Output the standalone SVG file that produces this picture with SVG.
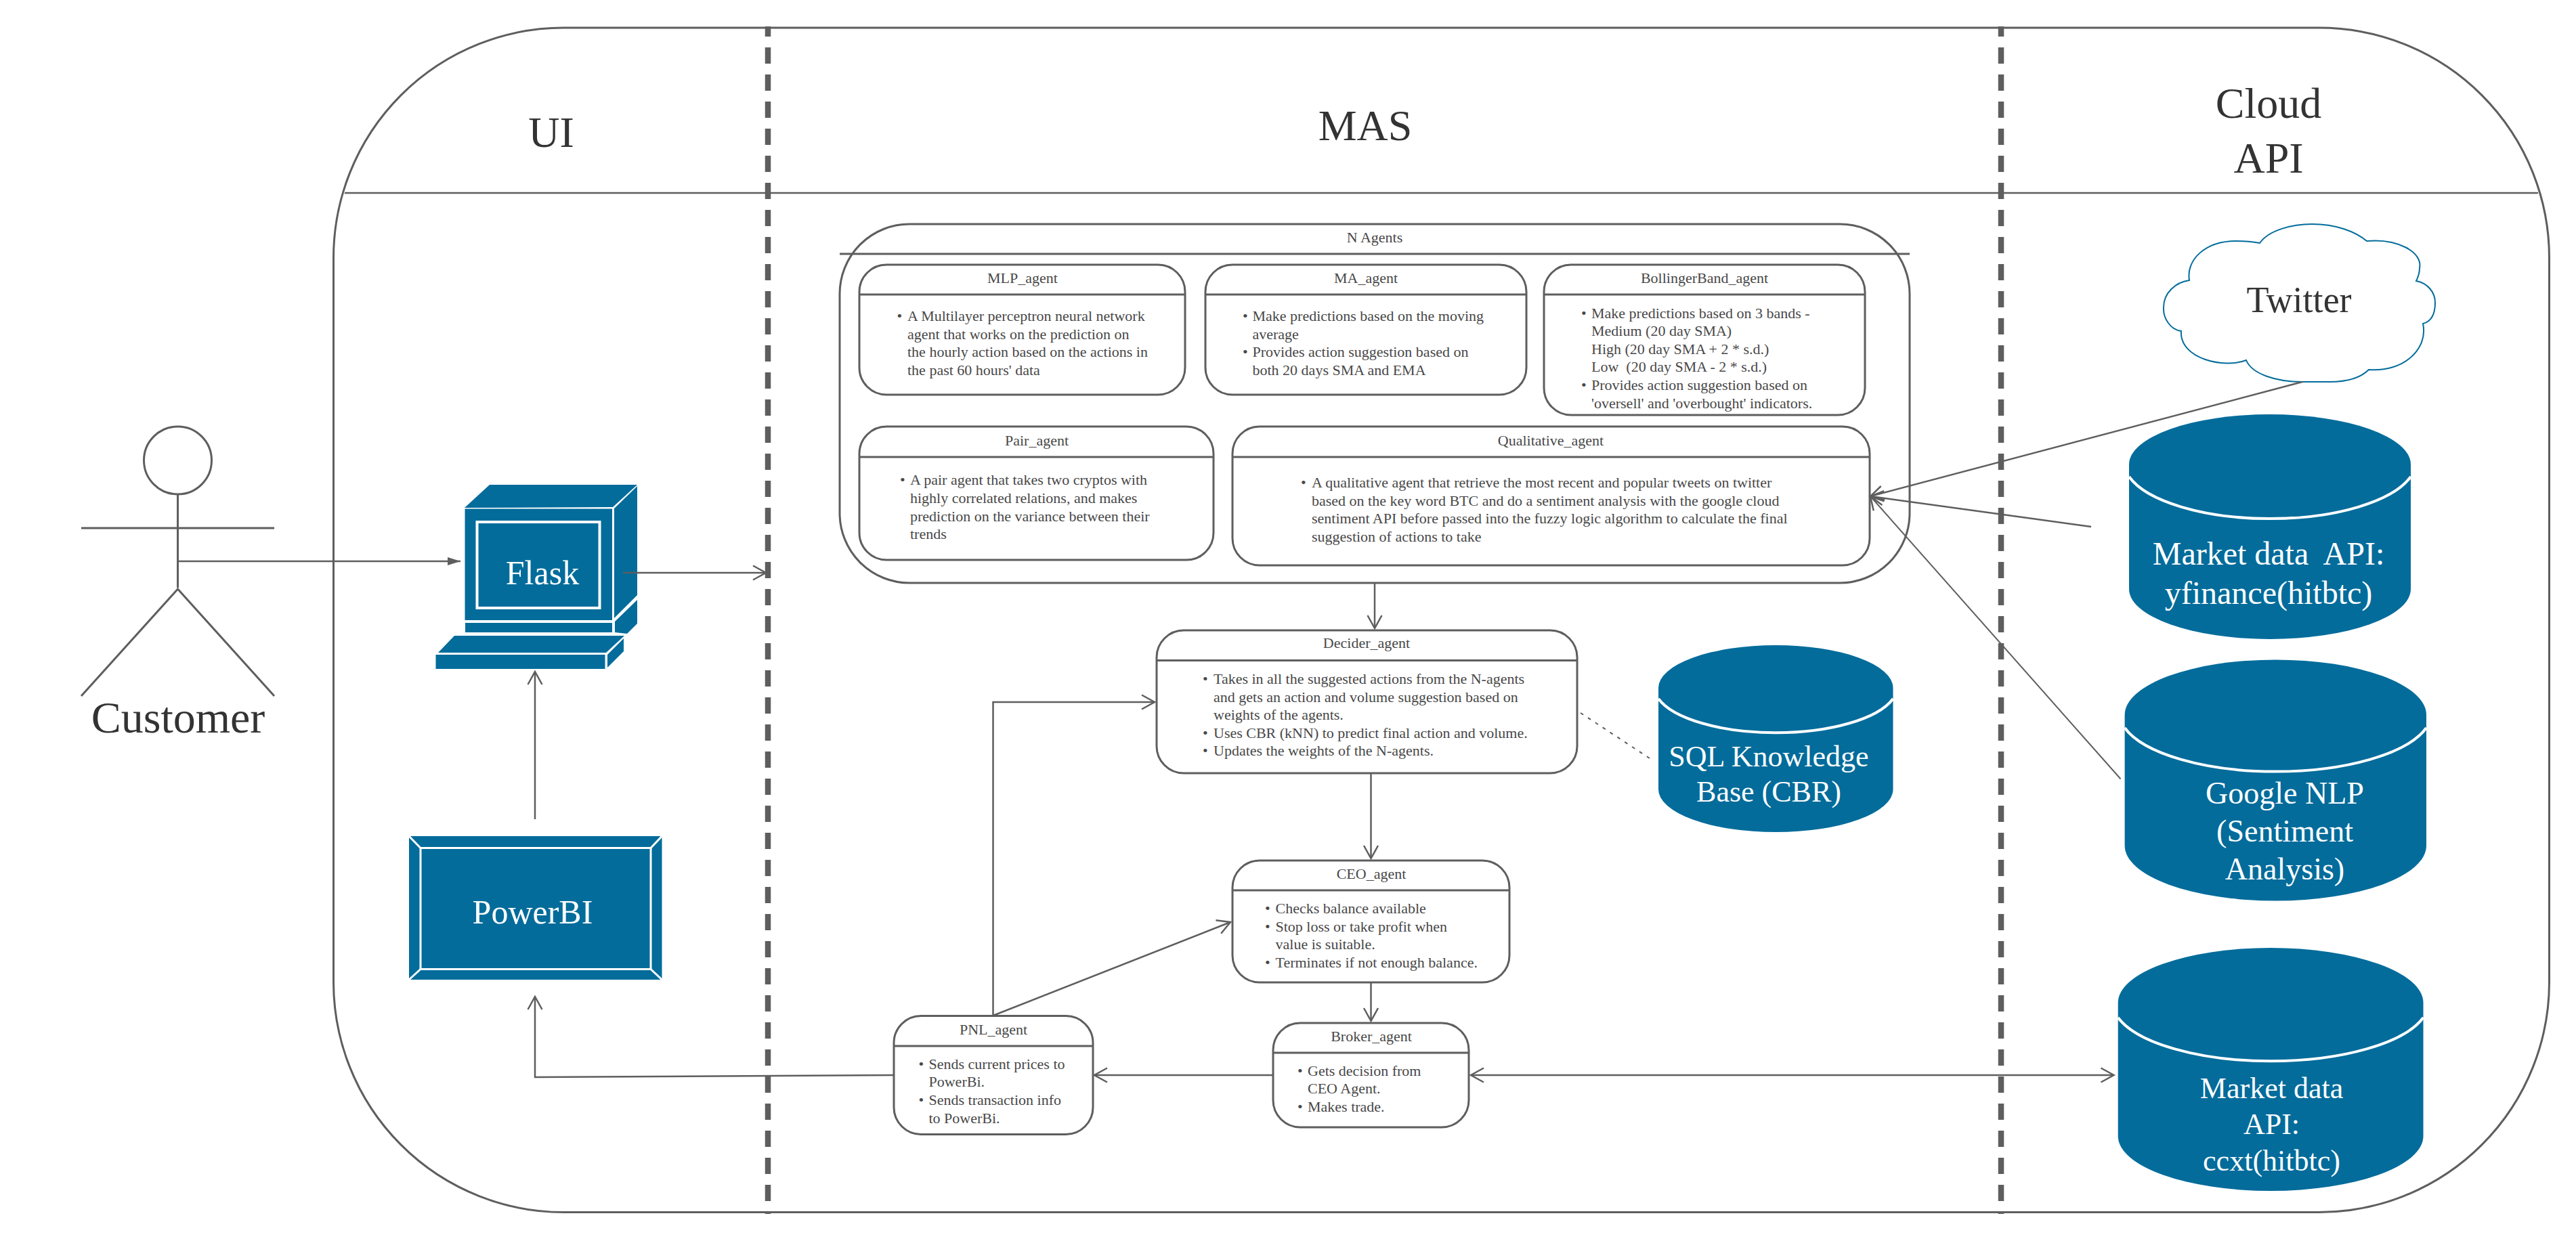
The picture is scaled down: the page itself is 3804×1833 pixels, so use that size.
<svg xmlns="http://www.w3.org/2000/svg" width="3804" height="1833" viewBox="0 0 3804 1833">
<style>
text{font-family:"Liberation Serif","Times New Roman",serif;fill:#484848;white-space:pre}
.b{font-size:22px}
.t{font-size:22px;text-anchor:middle}
.h{font-size:64px;text-anchor:middle;fill:#333}
.w{fill:#fff;text-anchor:middle}
.box{fill:none;stroke:#5e5e5e;stroke-width:3}
.ln{stroke:#5e5e5e;stroke-width:3;fill:none}
.c{stroke:#5e5e5e;stroke-width:2.5;fill:none}
.o{marker-end:url(#open)}
.blue{fill:#036c9b}
.arc{fill:none;stroke:#fff;stroke-width:4}
.sep{stroke:#5e5e5e;stroke-width:8.5;stroke-dasharray:24 16;stroke-dashoffset:9;fill:none}
</style>
<defs>
<marker id="open" markerUnits="userSpaceOnUse" markerWidth="26" markerHeight="28" refX="21" refY="14" orient="auto-start-reverse" overflow="visible"><path d="M2 3.5L21 14L2 24.5" fill="none" stroke="#5e5e5e" stroke-width="2.5"/></marker>
<marker id="solid" markerUnits="userSpaceOnUse" markerWidth="20" markerHeight="14" refX="19" refY="7" orient="auto"><path d="M0 1L19 7L0 13Z" fill="#5e5e5e"/></marker>
</defs>
<rect width="3804" height="1833" fill="#fff"/>
<g id="frame">
<rect x="492.5" y="41" width="3272" height="1749.500" rx="340" ry="340" class="box"/>
<line x1="509" y1="285" x2="3748" y2="285" class="c"/>
<line x1="1134" y1="39" x2="1134" y2="1793" class="sep"/>
<line x1="2955" y1="39" x2="2955" y2="1793" class="sep"/>
<text x="814" y="217" class="h">UI</text>
<text x="2016" y="207" class="h">MAS</text>
<text x="3350" y="174" class="h">Cloud</text>
<text x="3350" y="255" class="h">API</text>
</g>
<g id="customer">
<circle cx="262.500" cy="680" r="50" class="ln" style="fill:#fff"/>
<path d="M262.500 730V868M120 780H405M120 1028L262.500 870L405 1028" class="ln"/>
<text x="263" y="1082" style="font-size:66px;text-anchor:middle;fill:#333">Customer</text>
</g>
<g id="flask">
<polygon class="blue" points="686,750 723,716 941,716 905,749"/>
<polygon class="blue" points="907,751 941,718 941,879 907,913"/>
<rect class="blue" x="686.500" y="751.500" width="217.500" height="164.500"/>
<rect class="blue" x="704.500" y="771" width="181" height="127" style="stroke:#fff;stroke-width:4"/>
<rect class="blue" x="687" y="920" width="217" height="14"/>
<polygon class="blue" points="908,918 941,886 941,921 926,936 908,934"/>
<polygon class="blue" points="647,964 671,939 922,939 895,964"/>
<rect class="blue" x="643.500" y="967" width="250" height="21"/>
<polygon class="blue" points="897,967 921,943 921,962 897,986"/>
<text x="801" y="863" class="w" style="font-size:50px">Flask</text>
</g>
<g id="powerbi">
<rect class="blue" x="604" y="1235" width="373.500" height="212"/>
<rect class="blue" x="621" y="1252.500" width="340" height="179" style="stroke:#fff;stroke-width:3"/>
<path d="M604 1235L621 1252.500M977.500 1235L961 1252.500M604 1447L621 1431.500M977.500 1447L961 1431.500" stroke="#fff" stroke-width="3" fill="none"/>
<text x="786.500" y="1364" class="w" style="font-size:50px">PowerBI</text>
</g>
<g id="n-agents">
<rect x="1240" y="331" width="1580" height="530" rx="103" class="box"/>
<line x1="1240" y1="375" x2="2820" y2="375" class="ln"/>
<text x="2030" y="358" class="t">N Agents</text>
</g>
<g id="mlp-agent">
<rect x="1269" y="391" width="481" height="192" rx="40" class="box"/>
<line x1="1269" y1="435" x2="1750" y2="435" class="ln"/>
<text x="1510" y="418" class="t">MLP_agent</text>
<text class="b"><tspan x="1324.500" y="474">•</tspan><tspan x="1340" y="474">A Multilayer perceptron neural network</tspan><tspan x="1340" y="500.500">agent that works on the prediction on</tspan><tspan x="1340" y="527">the hourly action based on the actions in</tspan><tspan x="1340" y="554">the past 60 hours' data</tspan></text>
</g>
<g id="ma-agent">
<rect x="1780" y="391" width="474" height="192" rx="40" class="box"/>
<line x1="1780" y1="435" x2="2254" y2="435" class="ln"/>
<text x="2017" y="418" class="t">MA_agent</text>
<text class="b"><tspan x="1835" y="474">•</tspan><tspan x="1849.500" y="474">Make predictions based on the moving</tspan><tspan x="1849.500" y="500.500">average</tspan><tspan x="1835" y="527">•</tspan><tspan x="1849.500" y="527">Provides action suggestion based on</tspan><tspan x="1849.500" y="554">both 20 days SMA and EMA</tspan></text>
</g>
<g id="bollingerband-agent">
<rect x="2280" y="391" width="474" height="222" rx="40" class="box"/>
<line x1="2280" y1="435" x2="2754" y2="435" class="ln"/>
<text x="2517" y="418" class="t">BollingerBand_agent</text>
<text class="b"><tspan x="2335" y="469.500">•</tspan><tspan x="2350" y="469.500">Make predictions based on 3 bands -</tspan><tspan x="2350" y="496">Medium (20 day SMA)</tspan><tspan x="2350" y="523">High (20 day SMA + 2 * s.d.)</tspan><tspan x="2350" y="549">Low  (20 day SMA - 2 * s.d.)</tspan><tspan x="2335" y="576">•</tspan><tspan x="2350" y="576">Provides action suggestion based on</tspan><tspan x="2350" y="603">'oversell' and 'overbought' indicators.</tspan></text>
</g>
<g id="pair-agent">
<rect x="1269" y="630" width="523" height="197" rx="40" class="box"/>
<line x1="1269" y1="675" x2="1792" y2="675" class="ln"/>
<text x="1531" y="658" class="t">Pair_agent</text>
<text class="b"><tspan x="1329" y="716">•</tspan><tspan x="1344" y="716">A pair agent that takes two cryptos with</tspan><tspan x="1344" y="743">highly correlated relations, and makes</tspan><tspan x="1344" y="770">prediction on the variance between their</tspan><tspan x="1344" y="796">trends</tspan></text>
</g>
<g id="qualitative-agent">
<rect x="1820" y="630" width="941" height="205" rx="40" class="box"/>
<line x1="1820" y1="675" x2="2761" y2="675" class="ln"/>
<text x="2290" y="658" class="t">Qualitative_agent</text>
<text class="b"><tspan x="1921" y="720">•</tspan><tspan x="1937" y="720">A qualitative agent that retrieve the most recent and popular tweets on twitter</tspan><tspan x="1937" y="747">based on the key word BTC and do a sentiment analysis with the google cloud</tspan><tspan x="1937" y="773">sentiment API before passed into the fuzzy logic algorithm to calculate the final</tspan><tspan x="1937" y="800">suggestion of actions to take</tspan></text>
</g>
<g id="decider-agent">
<rect x="1708" y="931" width="621" height="211" rx="40" class="box"/>
<line x1="1708" y1="975.500" x2="2329" y2="975.500" class="ln"/>
<text x="2018" y="957" class="t">Decider_agent</text>
<text class="b"><tspan x="1776" y="1010">•</tspan><tspan x="1792" y="1010">Takes in all the suggested actions from the N-agents</tspan><tspan x="1792" y="1037">and gets an action and volume suggestion based on</tspan><tspan x="1792" y="1063">weights of the agents.</tspan><tspan x="1776" y="1090">•</tspan><tspan x="1792" y="1090">Uses CBR (kNN) to predict final action and volume.</tspan><tspan x="1776" y="1116">•</tspan><tspan x="1792" y="1116">Updates the weights of the N-agents.</tspan></text>
</g>
<g id="ceo-agent">
<rect x="1820" y="1271" width="409" height="180" rx="40" class="box"/>
<line x1="1820" y1="1315" x2="2229" y2="1315" class="ln"/>
<text x="2025" y="1298" class="t">CEO_agent</text>
<text class="b"><tspan x="1868" y="1349">•</tspan><tspan x="1883.500" y="1349">Checks balance available</tspan><tspan x="1868" y="1375.500">•</tspan><tspan x="1883.500" y="1375.500">Stop loss or take profit when</tspan><tspan x="1883.500" y="1402">value is suitable.</tspan><tspan x="1868" y="1429">•</tspan><tspan x="1883.500" y="1429">Terminates if not enough balance.</tspan></text>
</g>
<g id="broker-agent">
<rect x="1880" y="1511" width="289" height="154" rx="40" class="box"/>
<line x1="1880" y1="1555" x2="2169" y2="1555" class="ln"/>
<text x="2025" y="1538" class="t">Broker_agent</text>
<text class="b"><tspan x="1916" y="1589">•</tspan><tspan x="1931" y="1589">Gets decision from</tspan><tspan x="1931" y="1615">CEO Agent.</tspan><tspan x="1916" y="1642">•</tspan><tspan x="1931" y="1642">Makes trade.</tspan></text>
</g>
<g id="pnl-agent">
<rect x="1320" y="1500.500" width="294" height="175" rx="40" class="box"/>
<line x1="1320" y1="1545" x2="1614" y2="1545" class="ln"/>
<text x="1467" y="1528" class="t">PNL_agent</text>
<text class="b"><tspan x="1356.500" y="1578.500">•</tspan><tspan x="1371.500" y="1578.500">Sends current prices to</tspan><tspan x="1371.500" y="1605">PowerBi.</tspan><tspan x="1356.500" y="1632">•</tspan><tspan x="1371.500" y="1632">Sends transaction info</tspan><tspan x="1371.500" y="1659">to PowerBi.</tspan></text>
</g>
<g id="twitter">
<path d="M3337 359C3350 340 3385 331 3414 331C3450 331 3478 342 3495 356C3540 352 3578 372 3573 396C3573 403 3571 409 3568 415C3585 418 3596 432 3596 447C3596 465 3590 475 3578 478C3586 515 3550 550 3498 546C3484 560 3460 564 3440 564L3400 564C3360 564 3325 552 3317 532C3285 545 3218 530 3221 489C3205 487 3194 470 3195 454C3195 433 3212 417 3233 414C3228 385 3255 356 3302 356C3315 356 3327 357 3337 359Z" fill="#fff" stroke="#036c9b" stroke-width="2"/>
<text x="3395" y="461" style="font-size:54px;text-anchor:middle;fill:#333">Twitter</text>
</g>
<g id="market-yfinance">
<path class="blue" d="M3144 686A208 74 0 0 1 3560 686V870A208 74 0 0 1 3144 870Z"/>
<path class="arc" d="M3144 704A216 85 0 0 0 3560 704"/>
<text x="3350" y="833.500" class="w" style="font-size:48px">Market data  API:</text>
<text x="3350" y="891.500" class="w" style="font-size:48px">yfinance(hitbtc)</text>
</g>
<g id="google-nlp">
<path class="blue" d="M3137.600 1056A222.700 81.600 0 0 1 3583 1056V1249A222.700 81.500 0 0 1 3137.600 1249Z"/>
<path class="arc" d="M3137.600 1075A231 88 0 0 0 3583 1075"/>
<text x="3374" y="1187" class="w" style="font-size:46px">Google NLP</text>
<text x="3374" y="1243" class="w" style="font-size:46px">(Sentiment</text>
<text x="3374" y="1298.500" class="w" style="font-size:46px">Analysis)</text>
</g>
<g id="market-ccxt">
<path class="blue" d="M3127.700 1481A225.400 81 0 0 1 3578.500 1481V1678A225.400 81 0 0 1 3127.700 1678Z"/>
<path class="arc" d="M3127.700 1503A234 88 0 0 0 3578.500 1503"/>
<text x="3354.500" y="1622" class="w" style="font-size:44px">Market data</text>
<text x="3354.500" y="1675" class="w" style="font-size:44px">API:</text>
<text x="3354.500" y="1729" class="w" style="font-size:44px">ccxt(hitbtc)</text>
</g>
<g id="sql-kb">
<path class="blue" d="M2449 1016A173.250 63 0 0 1 2795.500 1016V1166A173.250 63 0 0 1 2449 1166Z"/>
<path class="arc" d="M2449 1032A180 69 0 0 0 2795.500 1032"/>
<text x="2612" y="1132" class="w" style="font-size:44px">SQL Knowledge</text>
<text x="2612" y="1184" class="w" style="font-size:44px">Base (CBR)</text>
</g>
<g id="connectors">
<path class="c" d="M264 829H680" marker-end="url(#solid)"/>
<path class="c o" d="M920 846H1131"/>
<path class="c o" d="M790 1210V992"/>
<path class="c o" d="M1320 1588L790 1591V1472"/>
<path class="c o" d="M2030 861V928"/>
<path class="c o" d="M2024.500 1142V1268"/>
<path class="c o" d="M2024.500 1451V1508"/>
<path class="c o" d="M1880 1588H1616"/>
<path class="c o" d="M1466.500 1500V1037H1705"/>
<path class="c o" d="M1466.500 1500L1817 1362"/>
<path class="c o" d="M2172 1588H3121.500" style="marker-start:url(#open)"/>
<path class="c o" d="M3400 564L2762 733"/>
<path class="c o" d="M3088 778L2762 733"/>
<path class="c o" d="M3131.500 1150.500L2762 733" style="stroke-width:2"/>
<path d="M2334 1053L2442 1124" stroke="#5e5e5e" stroke-width="2" stroke-dasharray="5 8" fill="none"/>
</g>
</svg>
